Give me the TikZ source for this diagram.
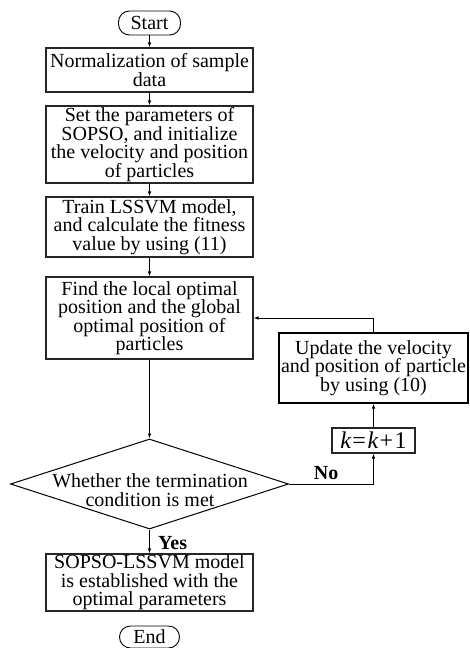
\documentclass[tikz,border=0pt]{standalone}
\usepackage{fontspec}
\setmainfont{Liberation Serif}
\usetikzlibrary{arrows.meta,shapes.geometric}
\begin{document}
\begin{tikzpicture}[x=1pt,y=-1pt,
  every node/.style={font=\fontsize{20}{18.5}\selectfont},
  box/.style={draw=black!85,line width=1.1pt,minimum width=207pt,inner sep=0pt,align=center},
  term/.style={draw=black,line width=0.9pt,rounded corners=11pt,inner sep=0pt},
  lbl/.style={font=\fontsize{20}{18}\selectfont\bfseries},
  arr/.style={line width=0.8pt,-{Latex[length=5pt,width=3.5pt]}}]
\useasboundingbox (0,0) rectangle (469,648);
\node[term,minimum width=62pt,minimum height=24pt] (start) at (149.5,23) {Start};
\node[box,minimum height=44pt] (n1) at (149.5,70) {Normalization of sample\\data};
\node[box,minimum height=77pt] (n2) at (149.5,144.5) {Set the parameters of\\SOPSO, and initialize\\the velocity and position\\of particles};
\node[box,minimum height=60pt] (n3) at (149.5,227) {Train LSSVM model,\\and calculate the fitness\\value by using (11)};
\node[box,minimum height=82pt] (n4) at (149.5,318) {Find the local optimal\\position and the global\\optimal position of\\particles};
\node[draw=black,line width=1pt,diamond,minimum width=278pt,minimum height=90pt,inner sep=0pt] (dia) at (149.5,484) {};
\node[align=center] (diat) at (150,490) {Whether the termination\\condition is met};
\node[box,minimum height=57pt] (fin) at (149.5,582.5) {SOPSO-LSSVM model\\is established with the\\optimal parameters};
\node[term,minimum width=60pt,minimum height=22pt] (end) at (149.5,637) {End};
\node[box,minimum width=189pt,minimum height=70pt,draw=black] (upd) at (373.5,368) {Update the velocity\\and position of particle\\by using (10)};
\node[box,minimum width=83pt,minimum height=25pt,font=\fontsize{24}{24}\selectfont] (kb) at (373.5,440.5) {\itshape k\upshape\kern1.5pt=\kern1.5pt\itshape k\upshape\kern1.5pt+\kern1.5pt1};
\draw[arr] (start) -- (n1);
\draw[arr] (n1) -- (n2);
\draw[arr] (n2) -- (n3);
\draw[arr] (n3) -- (n4);
\draw[arr] (n4) -- (dia.north);
\draw[arr] (dia.south) -- node[right,lbl,xshift=5pt,yshift=-2pt] {Yes} (fin);
\draw[arr] (dia.east) -| node[pos=0.22,above,lbl,yshift=1pt] {No} (kb.south);
\draw[arr] (kb) -- (upd);
\draw[arr] (upd.north) |- (n4.east |- 0,318);
\end{tikzpicture}
\end{document}
